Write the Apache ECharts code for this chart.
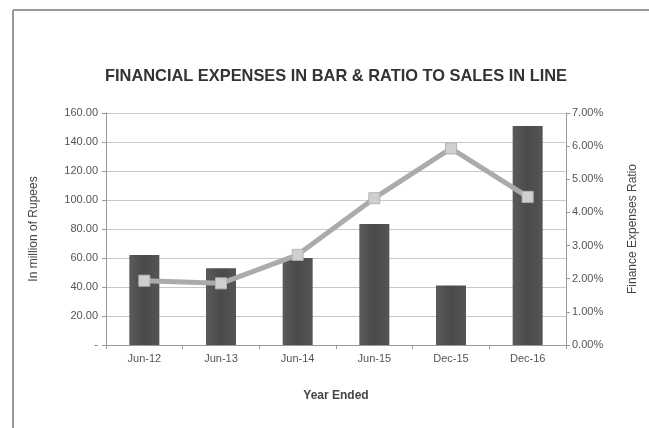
<!DOCTYPE html>
<html><head><meta charset="utf-8">
<script src="https://cdn.jsdelivr.net/npm/echarts@6/dist/echarts.min.js"></script>
<style>html,body{margin:0;padding:0;background:#fff}#c{width:649px;height:428px}</style>
</head><body><div id="c"></div>
<script>
var categories = ['Jun-12','Jun-13','Jun-14','Jun-15','Dec-15','Dec-16'];
var expenses = [62, 53, 60, 83.5, 41, 151];
var ratioPct = [1.94, 1.86, 2.72, 4.43, 5.93, 4.47];
var leftTicks = {min: 0, max: 160, interval: 20};
var rightTicks = {min: 0, max: 7, interval: 1};

var chart = echarts.init(document.getElementById('c'), null, {renderer: 'canvas'});
var lbl = {color: '#555', fontSize: 11, fontFamily: 'Liberation Sans, Arial'};
chart.setOption({
  animation: false,
  backgroundColor: '#fff',
  graphic: [
    {type: 'line', shape: {x1: 13, y1: 10, x2: 649, y2: 10}, style: {stroke: '#9a9a9a', lineWidth: 2}},
    {type: 'line', shape: {x1: 13, y1: 10, x2: 13, y2: 428}, style: {stroke: '#9a9a9a', lineWidth: 2}}
  ],
  title: {
    text: 'FINANCIAL EXPENSES IN BAR & RATIO TO SALES IN LINE',
    left: 331, textAlign: 'center', top: 63,
    textStyle: {fontSize: 16.4, fontWeight: 'bold', color: '#333', fontFamily: 'Liberation Sans, Arial'}
  },
  grid: {left: 106, right: 83, top: 113, bottom: 83},
  xAxis: {
    type: 'category', data: categories,
    name: 'Year Ended', nameLocation: 'middle', nameGap: 45,
    nameTextStyle: {fontSize: 12, fontWeight: 'bold', color: '#444', fontFamily: 'Liberation Sans, Arial'},
    axisLine: {lineStyle: {color: '#999'}},
    axisTick: {show: true, length: 4, lineStyle: {color: '#999'}},
    axisLabel: Object.assign({margin: 8}, lbl)
  },
  yAxis: [
    {
      type: 'value', min: leftTicks.min, max: leftTicks.max, interval: leftTicks.interval,
      name: 'In million of Rupees', nameLocation: 'middle', nameGap: 66,
      nameTextStyle: {fontSize: 12, color: '#444', fontFamily: 'Liberation Sans, Arial'},
      axisLine: {show: true, lineStyle: {color: '#999'}},
      axisTick: {show: true, length: 4, lineStyle: {color: '#999'}},
      splitLine: {lineStyle: {color: '#c8c8c8'}},
      axisLabel: Object.assign({margin: 8, formatter: function (v) { return v === 0 ? '-' : v.toFixed(2); }}, lbl)
    },
    {
      type: 'value', min: rightTicks.min, max: rightTicks.max, interval: rightTicks.interval,
      name: 'Finance Expenses Ratio', nameLocation: 'middle', nameGap: 61,
      nameTextStyle: {fontSize: 12, color: '#444', fontFamily: 'Liberation Sans, Arial'},
      axisLine: {show: true, lineStyle: {color: '#999'}},
      axisTick: {show: true, length: 4, lineStyle: {color: '#999'}},
      splitLine: {show: false},
      axisLabel: Object.assign({margin: 6, formatter: function (v) { return v.toFixed(2) + '%'; }}, lbl)
    }
  ],
  series: [
    {
      type: 'bar', data: expenses, yAxisIndex: 0, barWidth: 30,
      itemStyle: {color: new echarts.graphic.LinearGradient(0, 0, 1, 0, [
        {offset: 0, color: '#5a5a5a'}, {offset: 0.5, color: '#4a4a4a'}, {offset: 1, color: '#555'}
      ])}
    },
    {
      type: 'line', data: ratioPct, yAxisIndex: 1,
      symbol: 'rect', symbolSize: 11,
      lineStyle: {color: '#ababab', width: 5},
      itemStyle: {color: '#cfcfcf', borderColor: '#b5b5b5', borderWidth: 1}
    }
  ]
});
</script></body></html>
